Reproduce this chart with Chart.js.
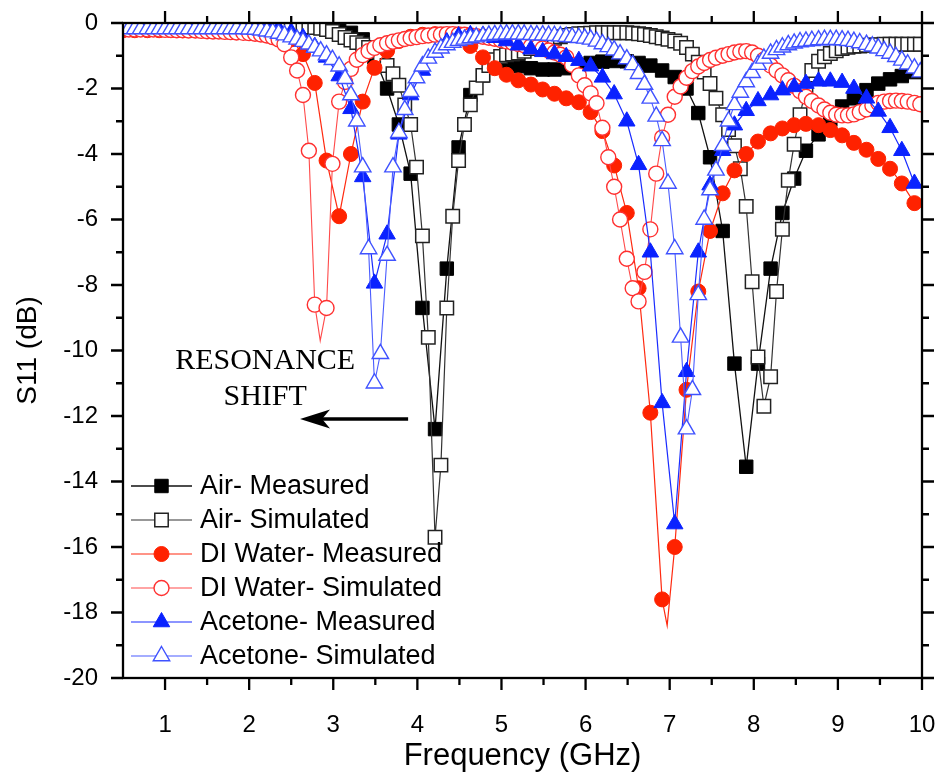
<!DOCTYPE html>
<html>
<head>
<meta charset="utf-8">
<title>S11 vs Frequency</title>
<script src="https://cdn.jsdelivr.net/npm/chart.js@4.4.1/dist/chart.umd.min.js"></script>
<style>
  html, body { margin: 0; padding: 0; background: #fff; }
  #wrap { width: 938px; height: 781px; }
</style>
</head>
<body>
<div id="wrap"><canvas id="chart" width="938" height="781"></canvas></div>
<script>
// frequency sweeps (GHz)
const measFreq = [
  0.50,0.64,0.79,0.93,1.07,1.21,1.36,1.50,1.64,1.78,
  1.93,2.07,2.21,2.35,2.50,2.64,2.78,2.92,3.07,3.21,
  3.35,3.49,3.64,3.78,3.92,4.06,4.21,4.35,4.49,4.63,
  4.78,4.92,5.06,5.20,5.35,5.49,5.63,5.77,5.92,6.06,
  6.20,6.34,6.49,6.63,6.77,6.91,7.06,7.20,7.34,7.48,
  7.63,7.77,7.91,8.05,8.20,8.34,8.48,8.62,8.77,8.91,
  9.05,9.19,9.34,9.48,9.62,9.76,9.91
];
const simFreq = [
  0.50,0.57,0.64,0.71,0.79,0.86,0.93,1.00,1.07,1.14,
  1.21,1.28,1.36,1.43,1.50,1.57,1.64,1.71,1.78,1.85,
  1.93,2.00,2.07,2.14,2.21,2.28,2.35,2.42,2.50,2.57,
  2.64,2.71,2.78,2.85,2.92,2.99,3.07,3.14,3.21,3.28,
  3.35,3.42,3.49,3.56,3.64,3.71,3.78,3.85,3.92,3.99,
  4.06,4.13,4.21,4.28,4.35,4.42,4.49,4.56,4.63,4.70,
  4.78,4.85,4.92,4.99,5.06,5.13,5.20,5.27,5.35,5.42,
  5.49,5.56,5.63,5.70,5.77,5.84,5.92,5.99,6.06,6.13,
  6.20,6.27,6.34,6.41,6.49,6.56,6.63,6.70,6.77,6.84,
  6.91,6.98,7.06,7.13,7.20,7.27,7.34,7.41,7.48,7.55,
  7.63,7.70,7.77,7.84,7.91,7.98,8.05,8.12,8.20,8.27,
  8.34,8.41,8.48,8.55,8.62,8.69,8.77,8.84,8.91,8.98,
  9.05,9.12,9.19,9.26,9.34,9.41,9.48,9.55,9.62,9.69,
  9.76,9.83,9.91,9.98
];

// S11 (dB)
const airMeasured = [
  -0.12,-0.12,-0.12,-0.12,-0.12,-0.12,-0.12,-0.12,-0.12,-0.12,
  -0.12,-0.12,-0.12,-0.12,-0.12,-0.12,-0.12,-0.13,-0.18,-0.30,
  -0.50,-1.05,-2.00,-3.10,-4.60,-8.70,-12.40,-7.50,-3.80,-2.20,
  -1.60,-1.35,-1.28,-1.32,-1.38,-1.42,-1.42,-1.38,-1.30,-1.22,
  -1.18,-1.16,-1.17,-1.22,-1.30,-1.45,-1.65,-2.00,-2.75,-4.10,
  -6.35,-10.40,-13.55,-10.40,-7.50,-5.80,-4.75,-3.90,-3.40,-2.95,
  -2.55,-2.30,-2.05,-1.85,-1.72,-1.62,-1.50
];
const airSimulated = [
  -0.10,-0.10,-0.10,-0.10,-0.10,-0.10,-0.10,-0.10,-0.10,-0.10,
  -0.10,-0.10,-0.10,-0.10,-0.10,-0.10,-0.10,-0.10,-0.10,-0.10,
  -0.10,-0.10,-0.10,-0.10,-0.10,-0.10,-0.10,-0.10,-0.10,-0.11,
  -0.11,-0.12,-0.14,-0.16,-0.20,-0.26,-0.35,-0.44,-0.52,-0.60,
  -0.66,-0.75,-0.87,-1.05,-1.30,-1.55,-1.90,-2.50,-3.10,-4.40,
  -6.50,-9.60,-15.70,-13.50,-8.70,-5.90,-4.20,-3.10,-2.50,-1.98,
  -1.60,-1.30,-1.12,-1.02,-0.97,-0.95,-0.92,-0.86,-0.78,-0.68,
  -0.60,-0.53,-0.47,-0.42,-0.38,-0.35,-0.33,-0.32,-0.31,-0.30,
  -0.30,-0.30,-0.30,-0.30,-0.30,-0.31,-0.33,-0.35,-0.38,-0.42,
  -0.46,-0.50,-0.55,-0.62,-0.75,-0.95,-1.20,-1.50,-1.85,-2.30,
  -2.80,-3.25,-3.75,-4.45,-5.60,-7.90,-10.20,-11.70,-10.80,-8.20,
  -6.30,-4.80,-3.70,-2.80,-2.00,-1.45,-1.17,-1.03,-0.93,-0.85,
  -0.78,-0.74,-0.71,-0.70,-0.68,-0.67,-0.66,-0.65,-0.65,-0.65,
  -0.65,-0.65,-0.65,-0.65
];
const waterMeasured = [
  -0.22,-0.22,-0.22,-0.22,-0.22,-0.22,-0.22,-0.22,-0.22,-0.22,
  -0.22,-0.23,-0.25,-0.30,-0.50,-0.95,-1.83,-4.20,-5.90,-4.00,
  -2.40,-1.37,-0.85,-0.55,-0.42,-0.36,-0.34,-0.38,-0.48,-0.70,
  -1.05,-1.38,-1.58,-1.75,-1.88,-2.03,-2.16,-2.30,-2.42,-2.72,
  -3.30,-4.35,-5.80,-8.10,-11.90,-17.60,-16.00,-11.20,-8.20,-6.35,
  -5.20,-4.50,-4.00,-3.62,-3.37,-3.22,-3.12,-3.08,-3.12,-3.27,
  -3.43,-3.66,-3.87,-4.15,-4.45,-4.90,-5.50
];
const waterSimulated = [
  -0.20,-0.20,-0.20,-0.20,-0.20,-0.20,-0.20,-0.21,-0.21,-0.22,
  -0.22,-0.23,-0.23,-0.24,-0.25,-0.26,-0.26,-0.27,-0.28,-0.29,
  -0.30,-0.31,-0.33,-0.35,-0.38,-0.43,-0.50,-0.65,-1.05,-1.45,
  -2.20,-3.90,-8.60,null,-8.70,-4.30,-2.40,-1.80,-1.40,-1.12,
  -0.98,-0.86,-0.76,-0.68,-0.62,-0.57,-0.53,-0.49,-0.46,-0.43,
  -0.40,-0.38,-0.36,-0.35,-0.34,-0.34,-0.35,-0.36,-0.38,-0.40,
  -0.42,-0.45,-0.48,-0.52,-0.56,-0.60,-0.64,-0.68,-0.71,-0.74,
  -0.78,-0.84,-0.90,-0.97,-1.05,-1.28,-1.60,-1.90,-2.15,-2.45,
  -3.20,-4.10,-5.00,-6.00,-7.20,-8.10,-8.50,-7.60,-6.30,-4.60,
  -3.50,-2.80,-2.25,-1.94,-1.67,-1.47,-1.33,-1.22,-1.13,-1.06,
  -1.00,-0.95,-0.90,-0.87,-0.86,-0.90,-1.00,-1.12,-1.30,-1.45,
  -1.60,-1.75,-1.92,-2.08,-2.25,-2.38,-2.52,-2.64,-2.74,-2.80,
  -2.82,-2.82,-2.79,-2.72,-2.64,-2.52,-2.44,-2.40,-2.38,-2.37,
  -2.38,-2.40,-2.44,-2.48
];
const acetoneMeasured = [
  -0.10,-0.10,-0.10,-0.10,-0.10,-0.10,-0.10,-0.10,-0.10,-0.10,
  -0.10,-0.11,-0.13,-0.18,-0.28,-0.45,-0.72,-1.05,-1.62,-2.62,
  -4.70,-7.95,-6.45,-3.40,-2.20,-1.45,-0.90,-0.58,-0.40,-0.36,
  -0.38,-0.45,-0.55,-0.68,-0.80,-0.88,-0.95,-1.03,-1.15,-1.32,
  -1.66,-2.17,-3.00,-4.33,-7.00,-11.60,-15.30,-10.65,-7.00,-4.95,
  -3.90,-3.12,-2.68,-2.38,-2.20,-2.05,-1.95,-1.85,-1.78,-1.78,
  -1.82,-2.00,-2.30,-2.70,-3.20,-3.90,-4.90
];
const acetoneSimulated = [
  -0.18,-0.18,-0.18,-0.18,-0.18,-0.18,-0.18,-0.18,-0.18,-0.18,
  -0.18,-0.18,-0.18,-0.18,-0.18,-0.18,-0.18,-0.18,-0.18,-0.18,
  -0.18,-0.19,-0.20,-0.22,-0.25,-0.28,-0.32,-0.37,-0.43,-0.50,
  -0.57,-0.65,-0.75,-0.86,-0.98,-1.12,-1.32,-1.70,-2.20,-3.00,
  -4.40,-6.90,-11.00,-10.10,-7.10,-4.40,-3.35,-2.65,-2.10,-1.68,
  -1.32,-1.08,-0.90,-0.77,-0.67,-0.60,-0.54,-0.50,-0.46,-0.43,
  -0.40,-0.38,-0.36,-0.35,-0.34,-0.34,-0.34,-0.35,-0.36,-0.37,
  -0.37,-0.38,-0.39,-0.40,-0.42,-0.43,-0.45,-0.47,-0.50,-0.56,
  -0.64,-0.73,-0.83,-0.95,-1.10,-1.28,-1.55,-1.88,-2.30,-2.85,
  -3.60,-4.90,-6.90,-9.60,-12.40,-11.20,-8.30,-6.00,-5.10,-4.50,
  -3.75,-3.00,-2.50,-2.12,-1.80,-1.52,-1.27,-1.08,-0.93,-0.82,
  -0.74,-0.67,-0.62,-0.58,-0.56,-0.54,-0.52,-0.51,-0.51,-0.51,
  -0.52,-0.54,-0.57,-0.61,-0.66,-0.71,-0.77,-0.85,-0.93,-1.03,
  -1.14,-1.26,-1.38,-1.50
];

// line-only points (resonance tips between plotted markers)
const waterSimTipFreq = [2.845];
const waterSimTipS11 = [-9.7];
const waterMeasTipFreq = [6.97];
const waterMeasTipS11 = [-18.4];

// axis ticks
const freqTicks = [1, 2, 3, 4, 5, 6, 7, 8, 9, 10];
const freqMinorTicks = [1.5, 2.5, 3.5, 4.5, 5.5, 6.5, 7.5, 8.5, 9.5];
const s11Ticks = [0, -2, -4, -6, -8, -10, -12, -14, -16, -18, -20];
const s11MinorTicks = [-1, -3, -5, -7, -9, -11, -13, -15, -17, -19];

const FONT = "'Liberation Sans', Arial, sans-serif";
const SERIF = "'Liberation Serif', 'Times New Roman', serif";

function points(freq, s11, tipFreq = [], tipS11 = []) {
  const pts = [];
  freq.forEach((f, i) => {
    if (s11[i] !== null) pts.push({ x: f, y: s11[i] });
  });
  tipFreq.forEach((f, i) => pts.push({ x: f, y: tipS11[i], tip: true }));
  return pts.sort((a, b) => a.x - b.x);
}

const marker = (r) => (ctx) => (ctx.raw && ctx.raw.tip ? 0 : r);

function series(label, data, s) {
  return {
    label,
    data,
    borderColor: s.line,
    borderWidth: s.lineWidth,
    pointStyle: s.style,
    markerSize: s.r,
    pointRadius: marker(s.r),
    pointHoverRadius: marker(s.r),
    pointBackgroundColor: s.fill,
    pointBorderColor: s.edge,
    pointBorderWidth: s.edgeWidth,
    tension: 0,
    fill: false,
    order: s.order,
  };
}

const datasets = [
  series('Air- Measured', points(measFreq, airMeasured),
    { line: '#111111', lineWidth: 1.3, style: 'rect', r: 9.5, fill: '#000000', edge: '#000000', edgeWidth: 1, order: 6 }),
  series('Air- Simulated', points(simFreq, airSimulated),
    { line: '#333333', lineWidth: 1.2, style: 'rect', r: 9.5, fill: '#ffffff', edge: '#222222', edgeWidth: 1.5, order: 5 }),
  series('DI Water- Measured', points(measFreq, waterMeasured, waterMeasTipFreq, waterMeasTipS11),
    { line: '#ff2a10', lineWidth: 1.2, style: 'circle', r: 7.5, fill: '#ff2200', edge: '#ff2200', edgeWidth: 1, order: 4 }),
  series('DI Water- Simulated', points(simFreq, waterSimulated, waterSimTipFreq, waterSimTipS11),
    { line: '#ff4a4a', lineWidth: 1.1, style: 'circle', r: 7.5, fill: '#ffffff', edge: '#ff3030', edgeWidth: 1.4, order: 3 }),
  series('Acetone- Measured', points(measFreq, acetoneMeasured),
    { line: '#1a2cff', lineWidth: 1.2, style: 'triangle', r: 9.5, fill: '#0a22ff', edge: '#0a22ff', edgeWidth: 1, order: 2 }),
  series('Acetone- Simulated', points(simFreq, acetoneSimulated),
    { line: '#4a5cff', lineWidth: 1.1, style: 'triangle', r: 9.5, fill: '#ffffff', edge: '#3f52ff', edgeWidth: 1.4, order: 1 }),
];

function drawMarker(ctx, style, r, x, y) {
  ctx.beginPath();
  if (style === 'rect') {
    const h = r * Math.SQRT1_2;
    ctx.rect(x - h, y - h, 2 * h, 2 * h);
  } else if (style === 'triangle') {
    ctx.moveTo(x, y - r);
    ctx.lineTo(x + r * 0.866, y + r * 0.5);
    ctx.lineTo(x - r * 0.866, y + r * 0.5);
    ctx.closePath();
  } else {
    ctx.arc(x, y, r, 0, Math.PI * 2);
  }
  ctx.fill();
  ctx.stroke();
}

// legend inside the lower left corner of the plot
const insideLegend = {
  id: 'insideLegend',
  afterDatasetsDraw(chart) {
    const { ctx, chartArea: a } = chart;
    ctx.save();
    chart.data.datasets.forEach((ds, i) => {
      const yy = a.bottom - 192 + 34 * i;
      ctx.strokeStyle = ds.borderColor;
      ctx.lineWidth = ds.borderWidth;
      ctx.beginPath();
      ctx.moveTo(a.left + 8, yy);
      ctx.lineTo(a.left + 69, yy);
      ctx.stroke();
      ctx.fillStyle = ds.pointBackgroundColor;
      ctx.strokeStyle = ds.pointBorderColor;
      ctx.lineWidth = ds.pointBorderWidth;
      drawMarker(ctx, ds.pointStyle, ds.markerSize, a.left + 38.5, yy);
      ctx.fillStyle = '#000';
      ctx.font = `27px ${FONT}`;
      ctx.textAlign = 'left';
      ctx.textBaseline = 'middle';
      ctx.fillText(ds.label, a.left + 77, yy + 1);
    });
    ctx.restore();
  }
};

// "RESONANCE SHIFT" note with arrow, placed in data units
const note = { x: 2.19, line1: -10.33, line2: -11.41 };
const arrow = { from: 3.89, to: 2.605, y: -12.09 };

const shiftNote = {
  id: 'shiftNote',
  afterDatasetsDraw(chart) {
    const { ctx, scales: { x, y } } = chart;
    ctx.save();
    ctx.fillStyle = '#000';
    ctx.font = `30px ${SERIF}`;
    ctx.textAlign = 'center';
    ctx.textBaseline = 'middle';
    ctx.fillText('RESONANCE', x.getPixelForValue(note.x), y.getPixelForValue(note.line1));
    ctx.fillText('SHIFT', x.getPixelForValue(note.x), y.getPixelForValue(note.line2));

    const x0 = x.getPixelForValue(arrow.from);
    const x1 = x.getPixelForValue(arrow.to);
    const yy = y.getPixelForValue(arrow.y);
    ctx.strokeStyle = '#000';
    ctx.lineWidth = 3.5;
    ctx.beginPath();
    ctx.moveTo(x0, yy);
    ctx.lineTo(x1 + 20, yy);
    ctx.stroke();
    ctx.beginPath();
    ctx.moveTo(x1, yy);
    ctx.lineTo(x1 + 30, yy - 9.5);
    ctx.lineTo(x1 + 22, yy);
    ctx.lineTo(x1 + 30, yy + 9.5);
    ctx.closePath();
    ctx.fill();
    ctx.restore();
  }
};

// box frame with outward major/minor ticks on all four sides
const frameTicks = {
  id: 'frameTicks',
  afterDraw(chart) {
    const { ctx, chartArea: a, scales: { x, y } } = chart;
    ctx.save();
    ctx.strokeStyle = '#000';
    ctx.lineWidth = 2.3;
    ctx.strokeRect(a.left, a.top, a.right - a.left, a.bottom - a.top);
    ctx.beginPath();
    const xMarks = (vals, len) => vals.forEach(v => {
      const px = x.getPixelForValue(v);
      ctx.moveTo(px, a.bottom); ctx.lineTo(px, a.bottom + len);
      ctx.moveTo(px, a.top); ctx.lineTo(px, a.top - len);
    });
    const yMarks = (vals, len) => vals.forEach(v => {
      const py = y.getPixelForValue(v);
      ctx.moveTo(a.left, py); ctx.lineTo(a.left - len, py);
      ctx.moveTo(a.right, py); ctx.lineTo(a.right + len, py);
    });
    xMarks(freqTicks, 12);
    xMarks(freqMinorTicks, 7);
    yMarks(s11Ticks, 12);
    yMarks(s11MinorTicks, 7);
    ctx.stroke();
    ctx.restore();
  }
};

new Chart(document.getElementById('chart'), {
  type: 'line',
  data: { datasets },
  options: {
    responsive: false,
    devicePixelRatio: 1,
    animation: false,
    events: [],
    layout: { padding: { left: 0, right: 16, top: 23, bottom: 0 } },
    plugins: {
      legend: { display: false },
      tooltip: { enabled: false },
    },
    scales: {
      x: {
        type: 'linear',
        min: 0.5,
        max: 10,
        afterBuildTicks: (s) => { s.ticks = freqTicks.map(v => ({ value: v })); },
        afterFit: (s) => { s.height = 103; s.paddingLeft = 0; s.paddingRight = 0; },
        grid: { display: false },
        border: { display: false },
        ticks: { color: '#000', font: { family: FONT, size: 24 }, padding: 25, maxRotation: 0, autoSkip: false },
        title: { display: true, text: 'Frequency (GHz)', color: '#000', font: { family: FONT, size: 31 }, padding: { top: 0, bottom: 6 } },
      },
      y: {
        type: 'linear',
        min: -20,
        max: 0,
        afterBuildTicks: (s) => { s.ticks = s11Ticks.map(v => ({ value: v })); },
        afterFit: (s) => { s.width = 123; s.paddingTop = 0; s.paddingBottom = 0; },
        grid: { display: false },
        border: { display: false },
        ticks: { color: '#000', font: { family: FONT, size: 24 }, padding: 17 },
        title: { display: true, text: 'S11 (dB)', color: '#000', font: { family: FONT, size: 28 }, padding: { top: 11, bottom: 0 } },
      },
    },
  },
  plugins: [insideLegend, shiftNote, frameTicks],
});
</script>
</body>
</html>
